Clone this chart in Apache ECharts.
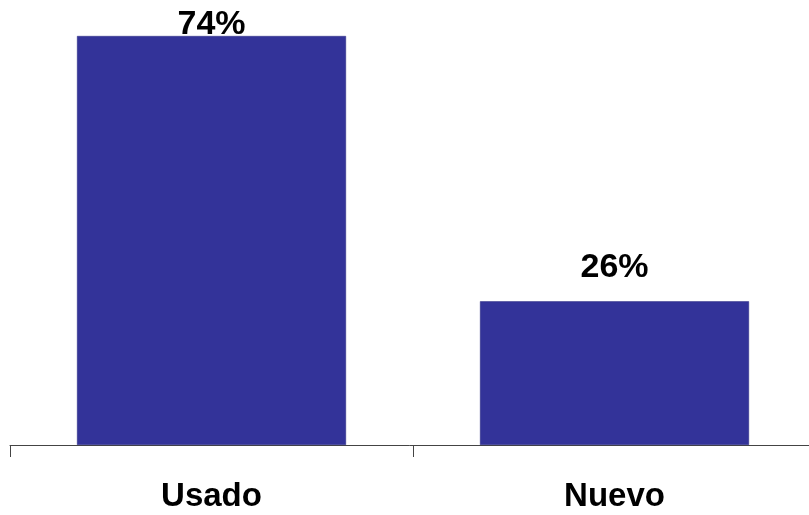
<!DOCTYPE html>
<html><head><meta charset="utf-8">
<script src="https://cdn.jsdelivr.net/npm/echarts@6/dist/echarts.min.js"></script>
<style>html,body{margin:0;padding:0;background:#fff}#c{width:809px;height:515px}</style>
</head><body><div id="c"></div>
<script>
const categories = ['Usado', 'Nuevo'];
const values = [74, 26];
const labelDistances = [-6, 17];

const chart = echarts.init(document.getElementById('c'), null, {renderer: 'canvas'});
chart.setOption({
  animation: false,
  grid: {left: 10, width: 806, top: 36, bottom: 70, containLabel: false, outerBoundsMode: 'none'},
  xAxis: {
    type: 'category', data: categories,
    axisLine: {lineStyle: {color: '#444', width: 1}},
    axisTick: {show: true, length: 12, lineStyle: {color: '#444'}},
    axisLabel: {color: '#000', fontFamily: 'Liberation Sans', fontWeight: 'bold', fontSize: 33, margin: 35}
  },
  yAxis: {type: 'value', min: 0, max: 74, show: false, splitLine: {show: false}},
  series: [{
    type: 'bar', barWidth: 269,
    itemStyle: {color: '#333399', borderColor: '#2a2a80', borderWidth: 0.5},
    data: values.map((v, i) => ({value: v, label: {distance: labelDistances[i]}})),
    label: {show: true, position: 'top', formatter: '{c}%', color: '#000',
      fontFamily: 'Liberation Sans', fontWeight: 'bold', fontSize: 34}
  }]
});
</script></body></html>
